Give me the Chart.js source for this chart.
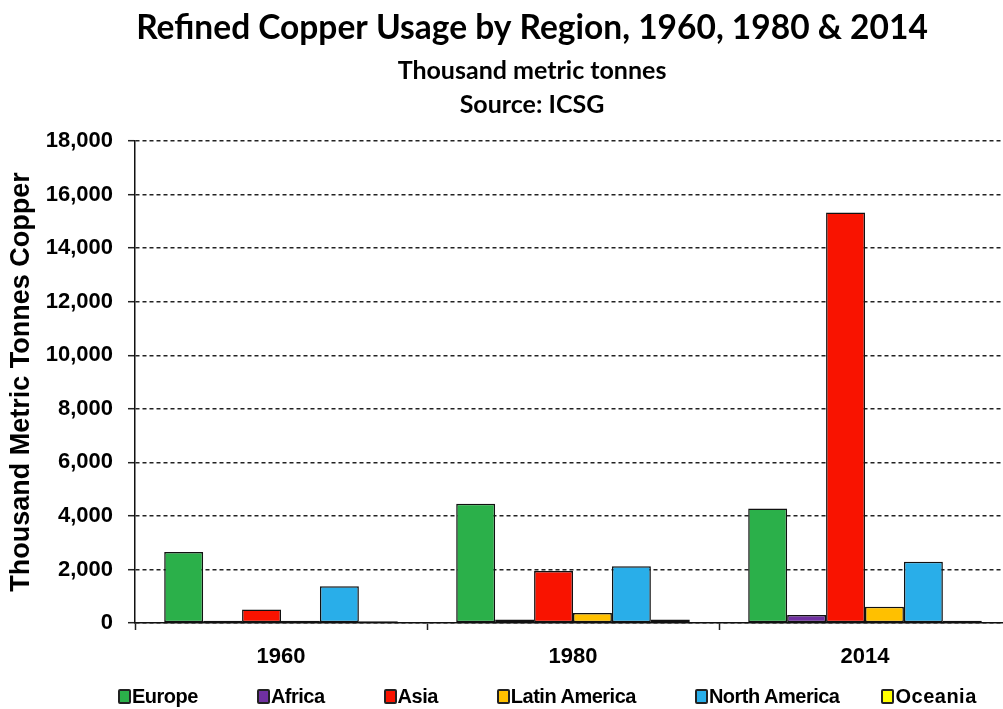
<!DOCTYPE html>
<html>
<head>
<meta charset="utf-8">
<script src="https://cdn.jsdelivr.net/npm/chart.js@4.4.1/dist/chart.umd.min.js"></script>
<style>
  html, body { margin: 0; padding: 0; background: #fff; overflow: hidden; }
  #wrap { position: relative; width: 1003px; height: 709px; overflow: hidden; }
  #wrap canvas { position: absolute; left: 0; top: 0; }
  #legend {
    position: absolute; left: 118px; top: 685px;
    display: flex; gap: 59px; white-space: nowrap;
    font-family: "Liberation Sans", Arial, sans-serif;
    font-weight: bold; font-size: 20px; letter-spacing: -0.5px; color: #000;
  }
  #legend span.item { display: flex; align-items: center; }
  #legend span.item:last-child { margin-left: -17px; letter-spacing: 0.5px; }
  #legend span.box {
    display: inline-block; width: 9px; height: 11px; margin-right: 1px;
    border: 2px solid #222; border-radius: 2px;
  }
</style>
</head>
<body>
<div id="wrap">
  <canvas id="chart" width="1015" height="709"></canvas>
  <div id="legend"></div>
</div>
<script>
// data (thousand tonnes)
var years = ["1960", "1980", "2014"];
var regions = ["Europe", "Africa", "Asia", "Latin America", "North America", "Oceania"];
var colors = ["#2bb04a", "#7030a0", "#f91300", "#ffc000", "#29aee9", "#ffff00"];
var europe = [2650, 4450, 4280];
var africa = [80, 130, 300];
var asia = [500, 1940, 15330];
var latinAmerica = [80, 370, 610];
var northAmerica = [1370, 2120, 2290];
var oceania = [70, 130, 80];
var yTicks = [0, 2000, 4000, 6000, 8000, 10000, 12000, 14000, 16000, 18000];

var seriesValues = [europe, africa, asia, latinAmerica, northAmerica, oceania];

var titleLines = [
  { text: "Refined Copper Usage by Region, 1960, 1980 & 2014", font: "bold 33.5px Lato", y: 39 },
  { text: "Thousand metric tonnes", font: "bold 25px Lato", y: 79 },
  { text: "Source: ICSG", font: "bold 25px Lato", y: 113 }
];

var titlePlugin = {
  id: "titles",
  afterDraw: function(chart) {
    var ctx = chart.ctx;
    ctx.save();
    ctx.fillStyle = "#000";
    ctx.textAlign = "center";
    ctx.textBaseline = "alphabetic";
    titleLines.forEach(function(t) {
      ctx.font = t.font;
      ctx.fillText(t.text, 532, t.y);
    });
    ctx.restore();
  }
};

var datasets = regions.map(function(name, i) {
  return {
    label: name,
    data: seriesValues[i],
    backgroundColor: colors[i],
    borderColor: "#111",
    borderWidth: 1.5,
    borderSkipped: false,
    barPercentage: 1.0,
    categoryPercentage: 0.8
  };
});

var chart = new Chart(document.getElementById("chart"), {
  type: "bar",
  data: { labels: years, datasets: datasets },
  plugins: [titlePlugin],
  options: {
    responsive: false,
    animation: false,
    layout: { padding: { left: 0, right: 4, top: 141, bottom: 46 } },
    plugins: { legend: { display: false }, tooltip: { enabled: false } },
    scales: {
      x: {
        grid: {
          offset: true, drawOnChartArea: false, drawTicks: true,
          tickLength: 7, tickColor: "#222", tickWidth: 1.5
        },
        border: { color: "#111", width: 1.5 },
        ticks: {
          color: "#000", padding: 14,
          font: { family: "Liberation Sans", weight: "bold", size: 22 }
        },
        afterFit: function(scale) { scale.height = 40; }
      },
      y: {
        min: 0, max: 18000,
        afterBuildTicks: function(scale) {
          scale.ticks = yTicks.map(function(v) { return { value: v }; });
        },
        grid: {
          color: "#222", lineWidth: 1.4,
          drawTicks: true, tickLength: 7, tickColor: "#222", tickWidth: 1.5, tickBorderDash: []
        },
        border: { color: "#111", width: 1.5, dash: [4, 3] },
        ticks: {
          color: "#000", padding: 15,
          font: { family: "Liberation Sans", weight: "bold", size: 22 },
          callback: function(v) { return Number(v).toLocaleString("en-US"); }
        },
        title: {
          display: true, text: "Thousand Metric Tonnes Copper", color: "#000",
          padding: { top: 5, bottom: 0 },
          font: { family: "Liberation Sans", weight: "bold", size: 27 }
        },
        afterFit: function(scale) { scale.width = 135; }
      }
    }
  }
});

// legend below the chart, same look as the original
var legendEl = document.getElementById("legend");
regions.forEach(function(name, i) {
  var item = document.createElement("span");
  item.className = "item";
  var box = document.createElement("span");
  box.className = "box";
  box.style.background = colors[i];
  item.appendChild(box);
  item.appendChild(document.createTextNode(name));
  legendEl.appendChild(item);
});
</script>
</body>
</html>
